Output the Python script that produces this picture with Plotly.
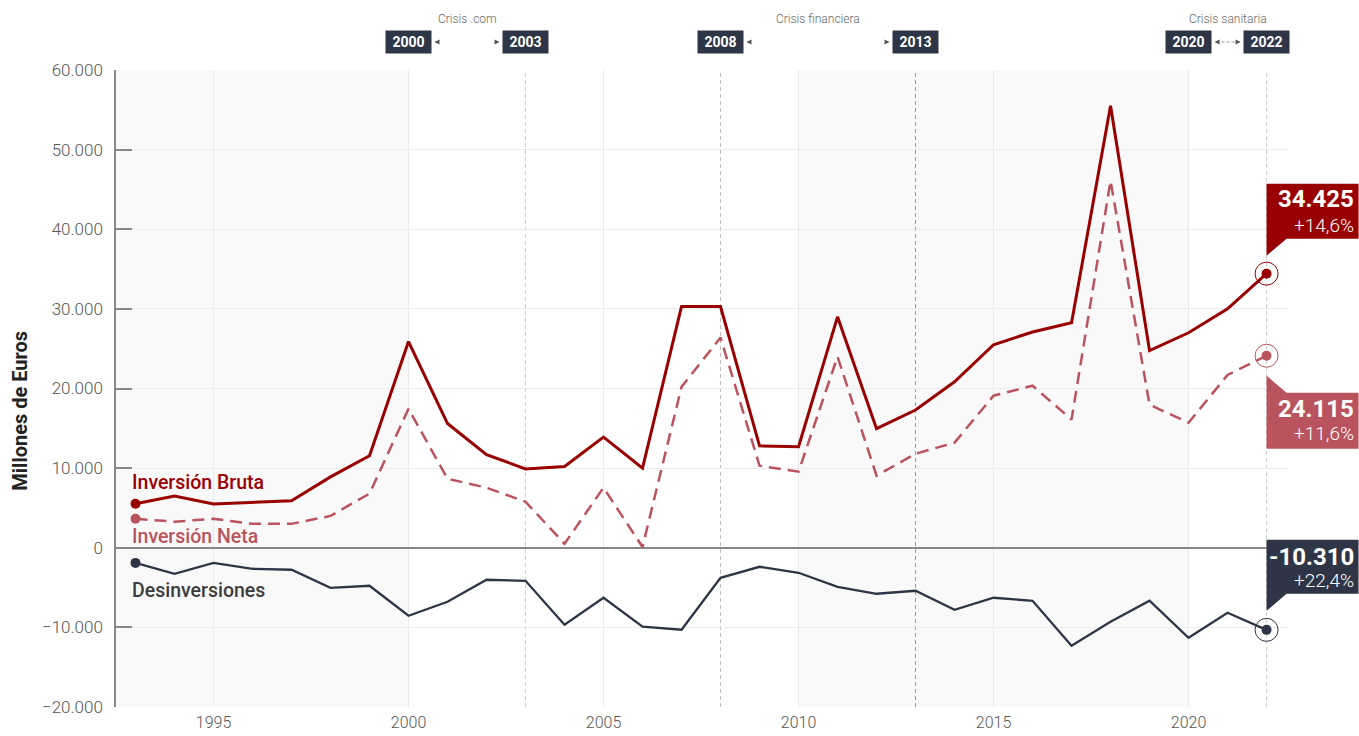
"""
Inversión extranjera: bruta, neta y desinversiones (1993-2022).
"""

import plotly.graph_objects as go

# Datos (millones de euros)
YEARS = list(range(1993, 2023))
BRUTA = [5530, 6500, 5500, 5700, 5900, 8900, 11550, 25900, 15600, 11700,
         9900, 10200, 13900, 10000, 30300, 30300, 12800, 12700, 29000, 14950,
         17300, 20850, 25500, 27100, 28250, 55500, 24750, 27000, 30000, 34425]
NETA = [3640, 3270, 3640, 3000, 3000, 4000, 6800, 17460, 8670, 7540,
        5780, 500, 7540, 100, 20200, 26400, 10300, 9550, 24000, 9050,
        11800, 13200, 19100, 20350, 16100, 46100, 17960, 15700, 21700, 24115]
DESINV = [-1900, -3270, -1900, -2640, -2760, -5030, -4770, -8540, -6780, -4020,
          -4150, -9670, -6280, -9920, -10300, -3770, -2390, -3140, -4900, -5780,
          -5400, -7790, -6280, -6660, -12310, -9300, -6660, -11300, -8170, -10310]
SERIES_NAMES = ['Inversión Bruta', 'Inversión Neta', 'Desinversiones']
LAST_CHANGE = ['+14,6%', '+11,6%', '+22,4%']

CRISES = [('Crisis .com', 2000, 2003),
          ('Crisis financiera', 2008, 2013),
          ('Crisis sanitaria', 2020, 2022)]
SHADED = [(1992.5, 2000), (2010, 2020)]
Y_TICKS = list(range(-20000, 60001, 10000))
X_RANGE = [1992.5, 2022.55]
Y_RANGE = [-20000, 60000]

# Estilo
RED = '#990000'
PINK = '#b9545e'
NAVY = '#2e3546'
FONT = 'Roboto'
EVENT_LINE_COLORS = {2000: '#aaaaaa', 2003: '#cccccc', 2008: '#bbbbbb',
                     2013: '#999999', 2020: '#cccccc', 2022: '#cccccc'}


def fmt(v):
    return f'{v:,.0f}'.replace(',', '.')


def to_paper_x(v):
    return (v - X_RANGE[0]) / (X_RANGE[1] - X_RANGE[0])


def to_paper_y(v):
    return (v - Y_RANGE[0]) / (Y_RANGE[1] - Y_RANGE[0])


fig = go.Figure()

series = [
    (BRUTA, RED, 3, 'solid', RED),
    (NETA, PINK, 2.5, '12px,7px', PINK),
    (DESINV, NAVY, 2.3, 'solid', '#3d3d3d'),
]

for vals, color, width, dash, _ in series:
    fig.add_trace(go.Scatter(x=YEARS, y=vals, mode='lines',
                             line=dict(color=color, width=width, dash=dash),
                             hoverinfo='x+y', showlegend=False))
    fig.add_trace(go.Scatter(x=[YEARS[0], YEARS[-1]], y=[vals[0], vals[-1]],
                             mode='markers', marker=dict(color=color, size=10),
                             hoverinfo='skip', showlegend=False))
    fig.add_trace(go.Scatter(x=[YEARS[-1]], y=[vals[-1]], mode='markers',
                             marker=dict(symbol='circle-open', size=23,
                                         color=color, line=dict(width=1)),
                             hoverinfo='skip', showlegend=False, cliponaxis=False))

# Etiquetas de las series a la izquierda
label_shift = [21, -18, -28]
for (vals, color, _, _, lab_color), name, dy in zip(series, SERIES_NAMES, label_shift):
    fig.add_annotation(x=YEARS[0], y=vals[0], text=name, showarrow=False,
                       xanchor='left', yanchor='middle', xshift=-6, yshift=dy,
                       font=dict(family=FONT, size=19.5, color=lab_color, weight=500))

# Cajas con el último valor (en coordenadas de papel para que no se recorten)
box_paths = [
    'M0,18 L0,90 L92,90 L92,35 L20,35 Z',
    'M0,-20 L20,-37 L92,-37 L92,-93 L0,-93 Z',
    'M0,19 L0,90 L92,90 L92,36 L20,36 Z',
]
value_shift = [(75, 48), (-53, -78), (73, 49)]
for (vals, color, _, _, _), path, change, (dv, dc) in zip(series, box_paths, LAST_CHANGE, value_shift):
    ax = to_paper_x(YEARS[-1])
    ay = to_paper_y(vals[-1])
    fig.add_shape(type='path', path=path, xref='paper', yref='paper',
                  xsizemode='pixel', ysizemode='pixel', xanchor=ax, yanchor=ay,
                  fillcolor=color, line=dict(width=0), layer='above')
    fig.add_annotation(x=ax, y=ay, xref='paper', yref='paper',
                       text=f'<b>{fmt(vals[-1])}</b>',
                       showarrow=False, xanchor='right', yanchor='middle',
                       xshift=89, yshift=dv,
                       font=dict(family=FONT, size=24, color='white'))
    fig.add_annotation(x=ax, y=ay, xref='paper', yref='paper', text=change,
                       showarrow=False, xanchor='right', yanchor='middle',
                       xshift=89, yshift=dc,
                       font=dict(family=FONT, size=19, color='white', weight=300))

# Fondo por décadas
for x0, x1 in SHADED:
    fig.add_vrect(x0=x0, x1=x1, fillcolor='#f9f9f9', line_width=0, layer='below')

# Líneas de crisis y etiquetas superiores
BOX_Y = 1.044
for name, start, end in CRISES:
    for yr in (start, end):
        fig.add_vline(x=yr, line=dict(color=EVENT_LINE_COLORS[yr], width=1, dash='4px,3px'),
                      layer='below')
        fig.add_annotation(x=yr, y=BOX_Y, xref='x', yref='paper', text=f'<b>{yr}</b>',
                           showarrow=False, bgcolor=NAVY, borderpad=3, width=39,
                           yanchor='middle',
                           font=dict(family=FONT, size=14, color='white'))
    fig.add_annotation(x=(start + end) / 2, y=1.08, xref='x', yref='paper', text=name,
                       showarrow=False, yanchor='middle',
                       font=dict(family=FONT, size=12, color='#666666', weight=300))
    fig.add_annotation(x=start, y=BOX_Y, xref='x', yref='paper', text='',
                       showarrow=True, ax=4, ay=0, xshift=26,
                       arrowhead=2, arrowsize=1, arrowwidth=1, arrowcolor='#555555')
    fig.add_annotation(x=end, y=BOX_Y, xref='x', yref='paper', text='',
                       showarrow=True, ax=-4, ay=0, xshift=-26,
                       arrowhead=2, arrowsize=1, arrowwidth=1, arrowcolor='#555555')
    if end - start <= 2:
        fig.add_shape(type='line', xref='x', yref='paper', xsizemode='pixel',
                      xanchor=start, x0=28, x1=51, y0=BOX_Y, y1=BOX_Y,
                      line=dict(color='#999999', width=1, dash='3px,2px'))

# Título del eje Y como anotación (centrado algo por debajo del centro)
fig.add_annotation(x=-0.082, y=0.465, xref='paper', yref='paper',
                   text='<b>Millones de Euros</b>', textangle=-90, showarrow=False,
                   xanchor='center', yanchor='middle',
                   font=dict(family=FONT, size=20, color='#222222'))

fig.update_layout(
    width=1359, height=736,
    margin=dict(l=116, r=71, t=70, b=29),
    paper_bgcolor='white',
    plot_bgcolor='white',
    separators=',.',
    font=dict(family=FONT, color='#555555'),
    showlegend=False,
)

fig.update_xaxes(
    range=X_RANGE,
    tick0=1995, dtick=5,
    showgrid=True, gridcolor='#eaeaea', gridwidth=1,
    showline=False, zeroline=False, ticks='',
    automargin=False, ticklabelstandoff=4,
    tickfont=dict(family=FONT, size=16, color='#555555', weight=300),
)

fig.update_yaxes(
    range=Y_RANGE,
    tickvals=Y_TICKS,
    tickformat=',d',
    showgrid=True, gridcolor='#ececec', gridwidth=1,
    zeroline=True, zerolinecolor='#888888', zerolinewidth=1.5,
    showline=True, linecolor='#888888', linewidth=1.5,
    ticks='inside', ticklen=16, tickcolor='#888888', tickwidth=1.5,
    ticklabelstandoff=8,
    automargin=False,
    tickfont=dict(family=FONT, size=17, color='#555555', weight=300),
)

fig.write_html('out.html', post_script="document.body.style.margin='0';",
               config={'displayModeBar': False})
